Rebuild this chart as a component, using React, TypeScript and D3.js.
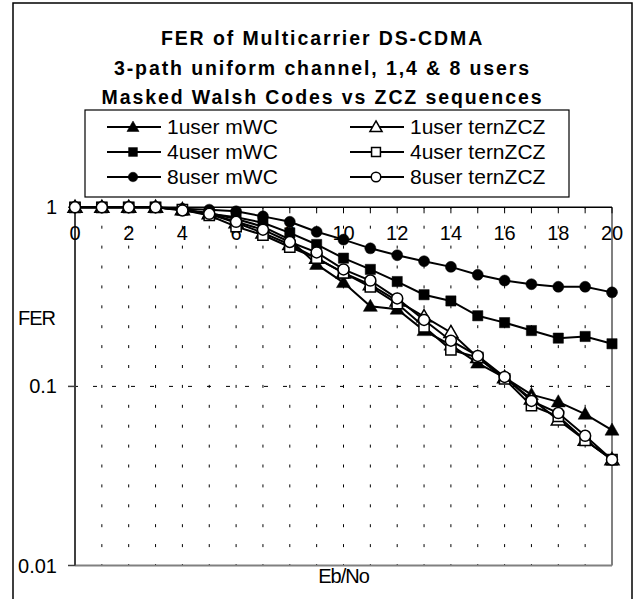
import * as d3 from 'd3';

const ebNo = d3.range(0, 21);

const oneMWC = [1, 1, 1, 1, 0.97, 0.93, 0.86, 0.78, 0.66, 0.48, 0.38, 0.28, 0.27, 0.205, 0.17, 0.135, 0.112, 0.09, 0.082, 0.07, 0.057];
const fourMWC = [1, 1, 1, 1, 0.97, 0.92, 0.88, 0.82, 0.72, 0.62, 0.52, 0.45, 0.385, 0.325, 0.3, 0.248, 0.227, 0.205, 0.186, 0.19, 0.173];
const eightMWC = [1, 1, 1, 1, 0.98, 0.97, 0.95, 0.89, 0.83, 0.73, 0.66, 0.59, 0.54, 0.5, 0.465, 0.42, 0.39, 0.372, 0.36, 0.36, 0.335];
const oneTern = [1, 1, 1, 1, 0.97, 0.92, 0.82, 0.72, 0.62, 0.52, 0.43, 0.37, 0.3, 0.245, 0.2, 0.145, 0.112, 0.085, 0.065, 0.05, 0.039];
const fourTern = [1, 1, 1, 1, 0.97, 0.9, 0.78, 0.7, 0.6, 0.52, 0.43, 0.36, 0.29, 0.215, 0.16, 0.145, 0.11, 0.078, 0.068, 0.05, 0.039];
const eightTern = [1, 1, 1, 1, 0.96, 0.92, 0.83, 0.75, 0.64, 0.56, 0.45, 0.39, 0.31, 0.235, 0.18, 0.148, 0.113, 0.083, 0.071, 0.053, 0.039];

const titleLines = ['FER of Multicarrier DS-CDMA', '3-path uniform channel, 1,4 & 8 users', 'Masked Walsh Codes vs ZCZ sequences'];
const xTickLabels = [0, 2, 4, 6, 8, 10, 12, 14, 16, 18, 20];
const yTickLabels = [1, 0.1, 0.01];

type Shape = 'triangle' | 'square' | 'circle';
interface Series { name: string; values: number[]; shape: Shape; filled: boolean }

const series: Series[] = [
  { name: '1user mWC', values: oneMWC, shape: 'triangle', filled: true },
  { name: '4user mWC', values: fourMWC, shape: 'square', filled: true },
  { name: '8user mWC', values: eightMWC, shape: 'circle', filled: true },
  { name: '1user ternZCZ', values: oneTern, shape: 'triangle', filled: false },
  { name: '4user ternZCZ', values: fourTern, shape: 'square', filled: false },
  { name: '8user ternZCZ', values: eightTern, shape: 'circle', filled: false },
];

const font = '"Liberation Sans", Arial, sans-serif';

const plot = { left: 75, right: 612, top: 207.3, bottom: 565.5 };

const x = d3.scaleLinear().domain([0, 20]).range([plot.left, plot.right]);
const y = d3.scaleLog().domain([0.01, 1]).range([plot.bottom, plot.top]);

const symbolPath = (shape: Shape, scale: number) => {
  const type = shape === 'triangle' ? d3.symbolTriangle : shape === 'square' ? d3.symbolSquare : d3.symbolCircle;
  const size = shape === 'triangle' ? 85 : shape === 'square' ? 105 : 95;
  return d3.symbol().type(type).size(size * scale)() as string;
};

const Marker = ({ s, cx, cy, scale = 1 }: { s: Series; cx: number; cy: number; scale?: number }) => (
  <path
    d={symbolPath(s.shape, scale)}
    transform={`translate(${cx},${cy + (s.shape === 'triangle' ? 1 : 0)})`}
    fill={s.filled ? '#000' : '#fff'}
    stroke="#000"
    strokeWidth={s.filled ? 0.5 : 1.5}
  />
);

export default function App() {
  const line = d3
    .line<number>()
    .x((_, i) => x(ebNo[i]))
    .y((v) => y(v));

  const decadeStep = (y(0.1) - y(1)) / 9;

  return (
    <svg width={636} height={599} style={{ position: 'absolute', left: 0, top: 0, background: '#fff' }} fontFamily={font}>
      <rect x={13} y={3} width={619} height={598} fill="#fff" stroke="#000" strokeWidth={1.5} />

      {titleLines.map((t, i) => (
        <text key={t} x={322.5} y={45 + i * 29.5} textAnchor="middle" fontSize={19.5} fontWeight="bold" letterSpacing={1.9}>
          {t}
        </text>
      ))}

      {/* vertical dashed grid */}
      {ebNo.slice(1, 20).map((d) => (
        <line
          key={d}
          x1={x(d)}
          x2={x(d)}
          y1={plot.top}
          y2={plot.bottom}
          stroke="#000"
          strokeWidth={1}
          strokeDasharray={`3 ${decadeStep - 3}`}
          strokeDashoffset={1.5}
        />
      ))}
      {/* horizontal dashed grid at 0.1 */}
      <line x1={plot.left} x2={plot.right} y1={y(0.1)} y2={y(0.1)} stroke="#000" strokeWidth={1} strokeDasharray="4 15" strokeDashoffset={-18} />

      {/* frame */}
      <line x1={plot.right} x2={plot.right} y1={plot.top} y2={plot.bottom} stroke="#808080" strokeWidth={2} />
      <line x1={plot.left} x2={plot.right} y1={plot.bottom} y2={plot.bottom} stroke="#808080" strokeWidth={2} />
      <line x1={plot.left} x2={plot.left} y1={plot.top} y2={plot.bottom} stroke="#404040" strokeWidth={2} />
      <line x1={plot.left} x2={plot.right} y1={plot.top} y2={plot.top} stroke="#000" strokeWidth={1.5} />

      {/* x ticks at top */}
      {ebNo.map((d) => (
        <line key={`t${d}`} x1={x(d)} x2={x(d)} y1={plot.top} y2={plot.top + 6} stroke="#000" strokeWidth={1} />
      ))}
      {xTickLabels.map((d) => (
        <text key={`xl${d}`} x={x(d)} y={240} textAnchor="middle" fontSize={20}>
          {d}
        </text>
      ))}

      {/* y ticks */}
      {yTickLabels.map((d) => (
        <g key={`y${d}`}>
          <line x1={plot.left - 7} x2={plot.left} y1={y(d)} y2={y(d)} stroke="#404040" strokeWidth={1.5} />
          <text x={57} y={y(d) + 7} textAnchor="end" fontSize={20}>
            {d}
          </text>
        </g>
      ))}

      <text x={18} y={325} fontSize={20} letterSpacing={-1}>FER</text>
      <text x={(plot.left + plot.right) / 2} y={583} textAnchor="middle" fontSize={20} letterSpacing={-1}>Eb/No</text>

      {/* series */}
      {series.map((s) => (
        <g key={s.name}>
          <path d={line(s.values) as string} fill="none" stroke="#000" strokeWidth={2} />
          {s.values.map((v, i) => (
            <Marker key={i} s={s} cx={x(ebNo[i])} cy={y(v)} />
          ))}
        </g>
      ))}

      {/* legend */}
      <rect x={85} y={110} width={484} height={87} fill="#fff" stroke="#000" strokeWidth={1.2} />
      {series.map((s, i) => {
        const col = Math.floor(i / 3);
        const row = i % 3;
        const x0 = col === 0 ? 107 : 350;
        const cy = 127 + row * 25;
        return (
          <g key={`lg${s.name}`}>
            <line x1={x0} x2={x0 + 54} y1={cy} y2={cy} stroke="#000" strokeWidth={2} />
            <Marker s={s} cx={x0 + 26} cy={cy} scale={0.75} />
            <text x={x0 + 60} y={cy + 7} fontSize={21}>
              {s.name}
            </text>
          </g>
        );
      })}
    </svg>
  );
}
